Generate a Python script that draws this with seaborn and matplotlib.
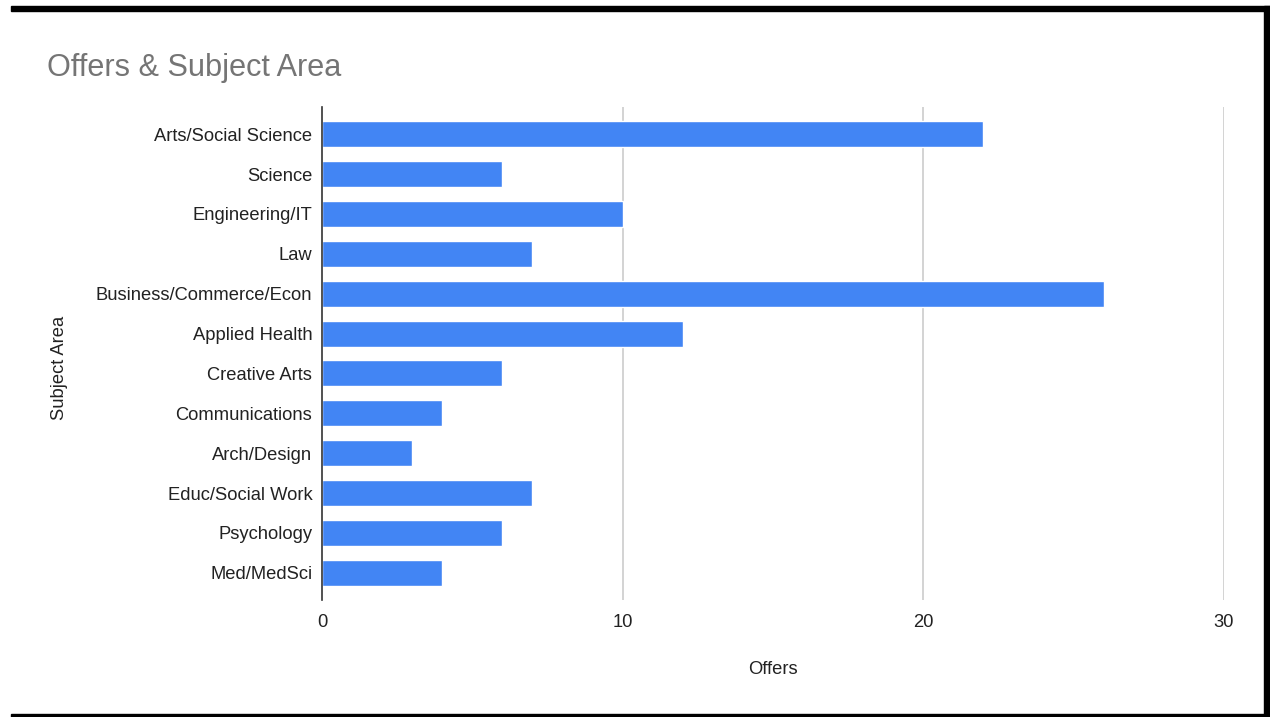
import matplotlib
matplotlib.use("Agg")
import matplotlib.pyplot as plt
import seaborn as sns
import pandas as pd
from matplotlib.patches import Rectangle

categories = ["Arts/Social Science", "Science", "Engineering/IT", "Law",
              "Business/Commerce/Econ", "Applied Health", "Creative Arts",
              "Communications", "Arch/Design", "Educ/Social Work",
              "Psychology", "Med/MedSci"]
offers = [22, 6, 10, 7, 26, 12, 6, 4, 3, 7, 6, 4]
x_ticks = [0, 10, 20, 30]

df = pd.DataFrame({"Subject Area": categories, "Offers": offers})

sns.set_theme(style="white")
plt.rcParams["font.family"] = ["Liberation Sans", "DejaVu Sans"]

W, H = 1270, 717
fig = plt.figure(figsize=(W / 100, H / 100), dpi=100)
ax = fig.add_axes([322 / W, 1 - 600 / H, (1224 - 322) / W, (600 - 107) / H])

sns.barplot(data=df, y="Subject Area", x="Offers", orient="h",
            color="#4285F4", saturation=1, width=0.65, ax=ax, zorder=3)

ax.set_xlim(0, 30)
ax.set_ylim(11.68, -0.68)
ax.set_xticks(x_ticks)
ax.set_xticklabels([str(t) for t in x_ticks])
ax.tick_params(axis="both", length=0, labelsize=13.2, colors="#222222")
ax.tick_params(axis="x", pad=10)
ax.tick_params(axis="y", pad=7)
for t in x_ticks[1:]:
    ax.axvline(t, color="#cccccc", lw=1.2, zorder=1)
for s in ["top", "right", "bottom"]:
    ax.spines[s].set_visible(False)
ax.spines["left"].set_color("#333333")
ax.spines["left"].set_linewidth(1.2)
ax.spines["left"].set_zorder(5)

ax.set_xlabel("Offers", fontsize=13.2, color="#222222", labelpad=22)
ax.set_ylabel("Subject Area", fontsize=13.2, color="#222222", labelpad=0)
ax.yaxis.set_label_coords(-(322 - 68) / (1224 - 322), (600 - 368) / (600 - 107))

fig.text(47 / W, 1 - 68 / H, "Offers & Subject Area", fontsize=22.1,
         color="#757575", va="center", ha="left")

# frame decoration
fig.patches.append(Rectangle((11 / W, 1 - 11 / H), (1270 - 11) / W, 5 / H,
                             transform=fig.transFigure, color="black"))
fig.patches.append(Rectangle((1264 / W, 0), 6 / W, 1 - 6 / H,
                             transform=fig.transFigure, color="black"))
fig.patches.append(Rectangle((11 / W, 0), (1270 - 11) / W, 3 / H,
                             transform=fig.transFigure, color="black"))

fig.savefig("out.png", dpi=100, facecolor="white")
